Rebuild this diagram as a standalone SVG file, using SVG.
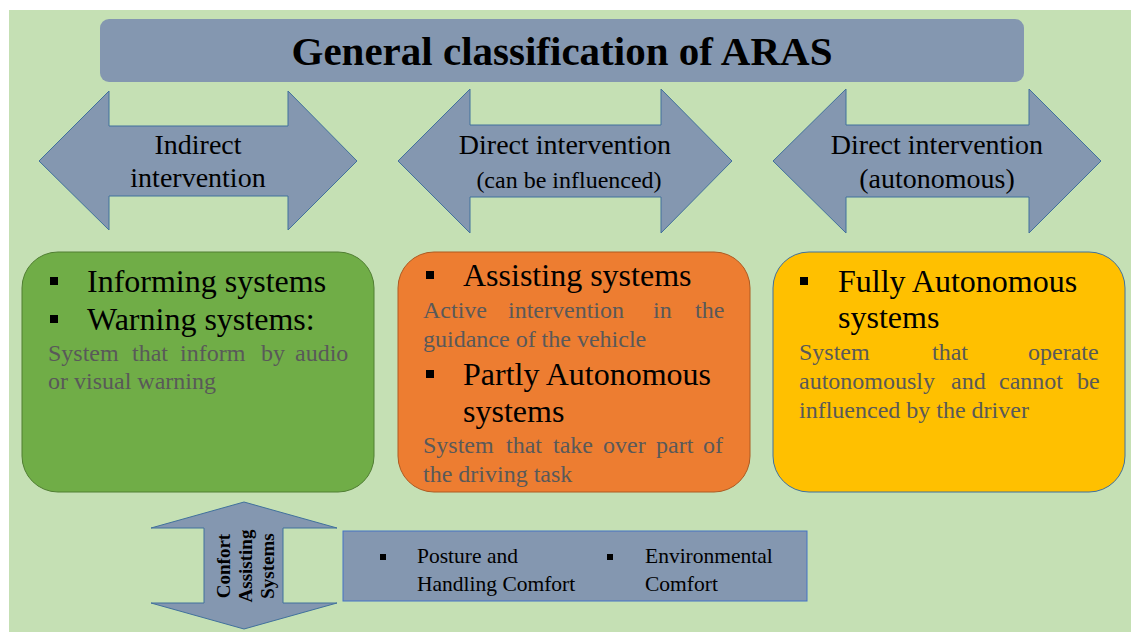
<svg xmlns="http://www.w3.org/2000/svg" width="1131" height="632" viewBox="0 0 1131 632">
  <style>
    .serif { font-family: "Liberation Serif", "Times New Roman", serif; }
    .title { font-size: 41px; font-weight: bold; fill: #000; text-anchor: middle; }
    .arrow { fill: #8497B0; stroke: #41719C; stroke-width: 1; }
    .alabel { font-size: 28px; fill: #000; text-anchor: middle; }
    .asub { font-size: 24px; }
    .head { font-size: 32px; fill: #000; }
    .desc { font-size: 24px; fill: #595959; }
    .bullet { fill: #000; }
    .vlabel { font-size: 19px; font-weight: bold; fill: #000; text-anchor: middle; }
    .small { font-size: 21.5px; fill: #000; }
  </style>

  <!-- page background -->
  <rect x="9" y="10" width="1122" height="622" fill="#C5E0B4"/>

  <!-- title banner -->
  <g id="title">
    <rect x="100" y="19" width="924" height="63" rx="9" fill="#8497B0"/>
    <text class="serif title" x="562" y="65">General classification of ARAS</text>
  </g>

  <!-- intervention categories (double-headed arrows) -->
  <g id="arrow-indirect">
    <path class="arrow" d="M39,161 L109,91 L109,126 L288,126 L288,91 L357,161 L288,230 L288,196 L109,196 L109,230 Z"/>
    <text class="serif alabel" x="198" y="154">Indirect</text>
    <text class="serif alabel" x="198" y="187">intervention</text>
  </g>
  <g id="arrow-direct-influenced">
    <path class="arrow" d="M398,161 L470,89 L470,125 L661,125 L661,89 L732,161 L661,233 L661,197 L470,197 L470,233 Z"/>
    <text class="serif alabel" x="565" y="154">Direct intervention</text>
    <text class="serif alabel asub" x="569" y="188">(can be influenced)</text>
  </g>
  <g id="arrow-direct-autonomous">
    <path class="arrow" d="M773,161 L846,89 L846,125 L1029,125 L1029,89 L1101,161 L1029,233 L1029,197 L846,197 L846,233 Z"/>
    <text class="serif alabel" x="937" y="154">Direct intervention</text>
    <text class="serif alabel" x="937" y="188">(autonomous)</text>
  </g>

  <!-- system boxes -->
  <g id="box-informing">
    <rect x="22" y="252" width="352" height="240" rx="36" fill="#70AD47" stroke="#507E32" stroke-width="1"/>
    <rect class="bullet" x="50" y="277" width="8" height="8"/>
    <text class="serif head" x="87" y="292">Informing systems</text>
    <rect class="bullet" x="50" y="315" width="8" height="8"/>
    <text class="serif head" x="87" y="330">Warning systems:</text>
    <text class="serif desc" y="361"><tspan x="48">System</tspan><tspan x="132">that</tspan><tspan x="180">inform</tspan><tspan x="261">by</tspan><tspan x="295">audio</tspan></text>
    <text class="serif desc" x="48" y="389">or visual warning</text>
  </g>

  <g id="box-assisting">
    <rect x="398" y="252" width="352" height="240" rx="36" fill="#ED7D31" stroke="#AE5A21" stroke-width="1"/>
    <rect class="bullet" x="426" y="271" width="8" height="8"/>
    <text class="serif head" x="463" y="286">Assisting systems</text>
    <text class="serif desc" y="318"><tspan x="423">Active</tspan><tspan x="508">intervention</tspan><tspan x="653">in</tspan><tspan x="695">the</tspan></text>
    <text class="serif desc" x="423" y="347">guidance of the vehicle</text>
    <rect class="bullet" x="426" y="370" width="8" height="8"/>
    <text class="serif head" x="463" y="385">Partly Autonomous</text>
    <text class="serif head" x="463" y="422">systems</text>
    <text class="serif desc" y="453"><tspan x="423">System</tspan><tspan x="506">that</tspan><tspan x="553">take</tspan><tspan x="603">over</tspan><tspan x="656">part</tspan><tspan x="703">of</tspan></text>
    <text class="serif desc" x="423" y="482">the driving task</text>
  </g>

  <g id="box-autonomous">
    <rect x="773" y="252" width="352" height="240" rx="36" fill="#FFC000" stroke="#41719C" stroke-width="1"/>
    <rect class="bullet" x="800" y="277" width="8" height="8"/>
    <text class="serif head" x="838" y="292">Fully Autonomous</text>
    <text class="serif head" x="838" y="328">systems</text>
    <text class="serif desc" y="360"><tspan x="799">System</tspan><tspan x="932">that</tspan><tspan x="1028">operate</tspan></text>
    <text class="serif desc" y="389"><tspan x="799">autonomously</tspan><tspan x="951">and</tspan><tspan x="999">cannot</tspan><tspan x="1077">be</tspan></text>
    <text class="serif desc" x="799" y="418">influenced by the driver</text>
  </g>

  <!-- comfort assisting systems -->
  <g id="arrow-comfort">
    <path class="arrow" d="M244,502 L337,528 L283,528 L283,603 L337,603 L244,629 L151,603 L204,603 L204,528 L151,528 Z"/>
    <g transform="translate(244,566) rotate(-90)">
      <text class="serif vlabel" x="0" y="-14">Confort</text>
      <text class="serif vlabel" x="0" y="8">Assisting</text>
      <text class="serif vlabel" x="0" y="30">Systems</text>
    </g>
  </g>

  <g id="box-comfort">
    <rect x="343" y="531" width="464" height="70" fill="#8497B0" stroke="#4472C4" stroke-width="1"/>
    <rect class="bullet" x="380" y="554" width="6" height="6"/>
    <text class="serif small" x="417" y="563">Posture and</text>
    <text class="serif small" x="417" y="591">Handling Comfort</text>
    <rect class="bullet" x="607" y="554" width="6" height="6"/>
    <text class="serif small" x="645" y="563">Environmental</text>
    <text class="serif small" x="645" y="591">Comfort</text>
  </g>

  <!-- no connectors between nodes -->
  <g id="connectors"/>
</svg>
